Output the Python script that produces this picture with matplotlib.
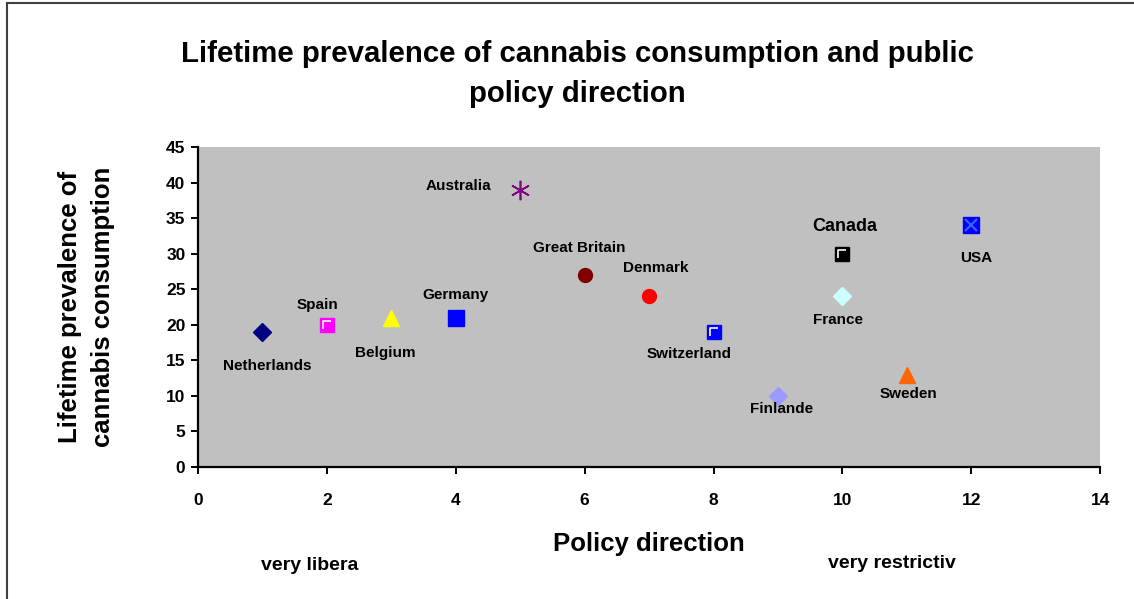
import matplotlib
matplotlib.use("Agg")
from matplotlib import pyplot as plt
from matplotlib.path import Path
from matplotlib.lines import Line2D

plt.rcParams['font.family'] = ['Liberation Sans', 'DejaVu Sans']
plt.rcParams['font.weight'] = 'bold'

countries = ['Netherlands', 'Spain', 'Belgium', 'Germany', 'Australia', 'Great Britain',
             'Denmark', 'Switzerland', 'Finlande', 'Canada', 'France', 'Sweden', 'USA']
policy = [1, 2, 3, 4, 5, 6, 7, 8, 9, 10, 10, 11, 12]
prevalence = [19, 20, 21, 21, 39, 27, 24, 19, 10, 30, 24, 13, 34]

# marker, face colour, size, label offset (pixels), label size
styles = {
    'Netherlands':   ('D', '#000080', 9, (5, -34), 11),
    'Spain':         ('s', '#FF00FF', 10, (-9, 20), 11),
    'Belgium':       ('^', '#FFFF00', 12, (-6, -35), 11),
    'Germany':       ('s', '#0000FF', 12, (0, 23), 11),
    'Australia':     ((6, 2, 0), '#800080', 14, (-62, 4), 11),
    'Great Britain': ('o', '#800000', 10, (-5, 27), 11),
    'Denmark':       ('o', '#FF0000', 10, (7, 28), 11),
    'Switzerland':   ('s', '#0000FF', 10, (-24, -22), 11),
    'Finlande':      ('D', '#9999FF', 9, (4, -13), 11),
    'Canada':        ('s', '#000000', 10, (2, 27), 13),
    'France':        ('D', '#CCFFFF', 9, (-4, -24), 11),
    'Sweden':        ('^', '#FF6600', 12, (2, -19), 11),
    'USA':           ('s', '#0000FF', 11, (5, -33), 11),
}
highlight = {'Spain', 'Switzerland', 'Canada'}

# white inner corner drawn on some square markers
corner = Path([(-0.5, -0.5), (0.5, 0.5), (-0.3, -0.3), (-0.3, 0.3), (0.3, 0.3)],
              [Path.MOVETO, Path.MOVETO, Path.MOVETO, Path.LINETO, Path.LINETO])

fig = plt.figure(figsize=(11.34, 5.99), dpi=100)
ax = fig.add_axes([0.1746, 0.2204, 0.7956, 0.5342])
ax.set_facecolor('#C0C0C0')

for name, x, y in zip(countries, policy, prevalence):
    m, c, s, off, fs = styles[name]
    if m == (6, 2, 0):
        ax.plot(x, y, marker=m, ms=s, color=c, mew=1.2, ls='none')
    else:
        ax.plot(x, y, marker=m, ms=s, mfc=c, mec=c, ls='none')
    if name in highlight:
        ax.plot(x, y, marker=corner, ms=s, mfc='none', mec='white', mew=1.2, ls='none')
    if name == 'USA':
        ax.plot(x, y, marker='x', ms=s * 0.85, mec='#3366FF', mew=1.5, ls='none')
    ax.annotate(name, (x, y), xytext=off, textcoords='offset pixels',
                ha='center', va='center', fontsize=fs, fontweight='bold')

ax.set_xlim(0, 14)
ax.set_ylim(0, 45)
ax.set_xticks(range(0, 15, 2))
ax.set_yticks(range(0, 46, 5))
for side in ('top', 'right'):
    ax.spines[side].set_visible(False)
for side in ('left', 'bottom'):
    ax.spines[side].set_linewidth(1.6)
ax.tick_params(direction='out', length=5, width=1.4, labelsize=12.5, pad=14)
ax.tick_params(axis='y', pad=4)

ax.set_xlabel('Policy direction', fontsize=18.5, fontweight='bold', labelpad=17)
ax.set_ylabel('Lifetime prevalence of\ncannabis consumption', fontsize=18.5,
              fontweight='bold', labelpad=37, linespacing=1.45)

fig.text(0.509, 1 - 74 / 599, 'Lifetime prevalence of cannabis consumption and public\npolicy direction',
         ha='center', va='center', fontsize=21.2, fontweight='bold', linespacing=1.5)
fig.text(310 / 1134, 1 - 565 / 599, 'very libera', ha='center', va='center', fontsize=14)
fig.text(892 / 1134, 1 - 563 / 599, 'very restrictiv', ha='center', va='center', fontsize=14)

# outer frame of the chart area
fig.add_artist(Line2D([7 / 1134, 7 / 1134], [0, 1 - 3 / 599], transform=fig.transFigure,
                      color='#404040', lw=1.5))
fig.add_artist(Line2D([7 / 1134, 1], [1 - 3 / 599, 1 - 3 / 599], transform=fig.transFigure,
                      color='#404040', lw=1.5))

fig.savefig('out.png', dpi=100)
